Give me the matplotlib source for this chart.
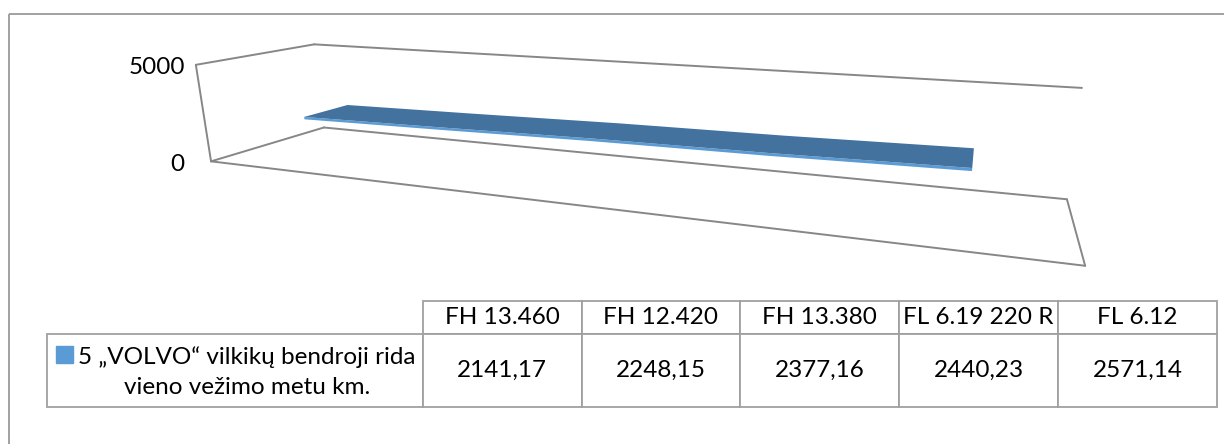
import numpy as np
import matplotlib
matplotlib.use('Agg')
import matplotlib.pyplot as plt
from matplotlib.patches import Rectangle, Polygon
from matplotlib.table import Table

models = ['FH 13.460', 'FH 12.420', 'FH 13.380', 'FL 6.19 220 R', 'FL 6.12']
mileage = [2141.17, 2248.15, 2377.16, 2440.23, 2571.14]
series_name = '5 „VOLVO“ vilkikų bendroji rida\nvieno vežimo metu km.'
value_ticks = [0, 5000]

plt.rcParams['font.family'] = ['Lato', 'DejaVu Sans']

W, H = 1224, 444
fig = plt.figure(figsize=(W / 100, H / 100), dpi=100)
ax = fig.add_axes([0, 0, 1, 1])
ax.set_xlim(0, W)
ax.set_ylim(H, 0)
ax.axis('off')

n = len(models)
vmax = value_ticks[-1]

# excel style 3-D box: x = category slot (0..n), v = value / vmax, z = depth (0 front, 1 back)
# camera is fitted from where the box corners sit on the page
box3 = np.array([[0, 0, 0], [n, 0, 0], [0, 0, 1], [n, 0, 1],
                 [0, 1, 0], [0, 1, 1], [n, 1, 1]], float)
box2 = np.array([[211, 162], [1085, 266], [324, 127], [1067, 199],
                 [196, 64], [314, 45], [1082, 88]], float)

m2 = box2.mean(0)
s2 = box2.std()
rows = []
for (x, v, z), (u, w) in zip(box3, (box2 - m2) / s2):
    rows.append([x, v, z, 1, 0, 0, 0, 0, -u * x, -u * v, -u * z, -u])
    rows.append([0, 0, 0, 0, x, v, z, 1, -w * x, -w * v, -w * z, -w])
P = np.linalg.svd(np.array(rows))[2][-1].reshape(3, 4)


def proj(x, v, z):
    h = P @ np.array([x, v, z, 1.0])
    return h[:2] / h[2] * s2 + m2


def edge(a, b):
    pa, pb = proj(*a), proj(*b)
    ax.plot([pa[0], pb[0]], [pa[1], pb[1]], color='#878787', lw=1.4,
            solid_capstyle='round')


# walls and floor outline
edge((0, 1, 0), (0, 1, 1))
edge((0, 0, 0), (0, 1, 0))
edge((0, 0, 0), (0, 0, 1))
edge((0, 1, 1), (n, 1, 1))
edge((0, 0, 1), (n, 0, 1))
edge((0, 0, 0), (n, 0, 0))
edge((n, 0, 0), (n, 0, 1))

# value axis labels
left_x = min(proj(0, 0, 0)[0], proj(0, 1, 0)[0]) - 11
for t in value_ticks:
    py = proj(0, t / vmax, 0)[1]
    ax.text(left_x, py + 3, str(t), ha='right', va='center', fontsize=17.5)

# 3-D line ribbon
xs = np.arange(n) + 0.5
vs = np.array(mileage) / vmax
z0, z1 = 0.3, 0.7
thick = 0.025
top = [proj(x, v, z0) for x, v in zip(xs, vs)] + \
      [proj(x, v, z1) for x, v in zip(xs[::-1], vs[::-1])]
front = [proj(x, v, z0) for x, v in zip(xs, vs)] + \
        [proj(x, v - thick, z0) for x, v in zip(xs[::-1], vs[::-1])]
ax.add_patch(Polygon(front, closed=True, fc='#5b9bd5', ec='none'))
ax.add_patch(Polygon(top, closed=True, fc='#43729e', ec='none'))

# chart area border
ax.add_patch(Rectangle((9, 14), 1400, 600, fill=False, ec='#9a9a9a', lw=1.3))

# data table
tab = Table(ax, bbox=[47 / W, 1 - 407 / H, 1170 / W, 106 / H])
col_w = [376] + [159] * n
row_h = [33, 73]
for j, name in enumerate(models):
    tab.add_cell(0, j + 1, width=col_w[j + 1], height=row_h[0], text=name, loc='center')
    tab.add_cell(1, j + 1, width=col_w[j + 1], height=row_h[1],
                 text=f'{mileage[j]:.2f}'.replace('.', ','), loc='center')
tab.add_cell(1, 0, width=col_w[0], height=row_h[1], text='', loc='center')
tab.auto_set_font_size(False)
for cell in tab.get_celld().values():
    cell.set_edgecolor('#a0a0a0')
    cell.set_linewidth(1.3)
    cell.set_fontsize(17.5)
ax.add_table(tab)

# legend key + series name in the row header cell
ax.add_patch(Rectangle((56, 346), 17, 17, color='#5b9bd5', zorder=5))
ax.text(247, 372, series_name, ha='center', va='center', fontsize=17.5,
        linespacing=1.5)

fig.savefig('out.png', dpi=100)
